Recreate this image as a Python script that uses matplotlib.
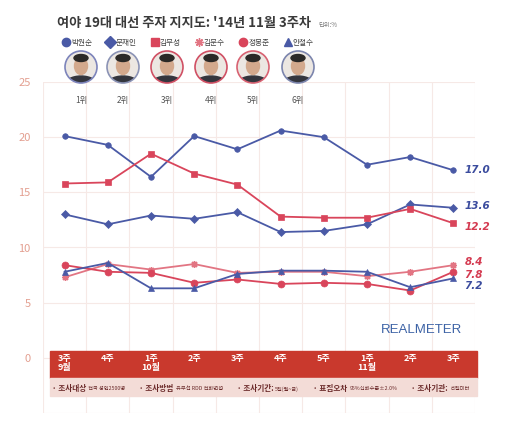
import numpy as np
import matplotlib.pyplot as plt
from matplotlib.patches import Rectangle, Circle, Ellipse
from matplotlib.lines import Line2D

plt.rcParams['font.family'] = ['Noto Sans CJK KR', 'DejaVu Sans']

# 데이터
weeks = ['3주\n9월', '4주', '1주\n10월', '2주', '3주', '4주', '5주', '1주\n11월', '2주', '3주']
names = ['박원순', '문재인', '김무성', '김문수', '정몽준', '안철수']
park = [20.1, 19.3, 16.4, 20.1, 18.9, 20.6, 20.0, 17.5, 18.2, 17.0]
moon = [13.0, 12.1, 12.9, 12.6, 13.2, 11.4, 11.5, 12.1, 13.9, 13.6]
kim_ms = [15.8, 15.9, 18.5, 16.7, 15.7, 12.8, 12.7, 12.7, 13.5, 12.2]
kim_mns = [7.3, 8.5, 8.0, 8.5, 7.7, 7.8, 7.8, 7.4, 7.8, 8.4]
chung = [8.4, 7.8, 7.7, 6.8, 7.1, 6.7, 6.8, 6.7, 6.1, 7.8]
ahn = [7.8, 8.6, 6.3, 6.3, 7.6, 7.9, 7.9, 7.8, 6.4, 7.2]
ranks = ['1위', '2위', '3위', '4위', '5위', '6위']
yticks = [0, 5, 10, 15, 20, 25]

series = [park, moon, kim_ms, kim_mns, chung, ahn]
blue = '#4a5aa6'
red = '#d9455b'
pink = '#e27583'
colors = [blue, blue, red, pink, red, blue]
markers = ['o', 'D', 's', (8, 2, 0), 'o', '^']
msizes = [4, 4, 4.5, 5, 5, 5]
lab_col = ['#3b4c9e', '#3b4c9e', '#d43a50', '#d43a50', '#d43a50', '#3b4c9e']
lab_off = [0, 1, -3, 2.5, -2, -5.5]  # 라벨 세로 위치 보정 (pt)

fig = plt.figure(figsize=(5.2, 4.22), dpi=100)
ax = fig.add_axes([43/520, 9/422, 432/520, 331/422])
x = np.arange(len(weeks))

for s, c, m, ms, lc, off in zip(series, colors, markers, msizes, lab_col, lab_off):
    ax.plot(x, s, color=c, marker=m, markersize=ms, lw=1.3, zorder=3,
            markeredgewidth=1.0 if m == (8, 2, 0) else 0.5)
    ax.annotate(f'{s[-1]:.1f}', (x[-1], s[-1]), xytext=(8, off),
                textcoords='offset points', va='center', ha='left',
                color=lc, fontsize=7.5, fontweight='bold', style='italic',
                family='DejaVu Sans', annotation_clip=False)

ax.set_xlim(-0.5, 9.5)
ax.set_ylim(-5, 25)
ax.set_xticks(np.arange(-0.5, 10, 1))
ax.set_xticklabels([])
ax.set_yticks([-5] + yticks)
ax.set_yticklabels([''] + [str(v) for v in yticks])
ax.tick_params(length=0, pad=9, labelsize=8, labelcolor='#e39f90')
ax.grid(True, color='#f6e9e6', lw=0.8)
ax.set_axisbelow(True)
for sp in ax.spines.values():
    sp.set_visible(False)

# 아래 띠
ax.add_patch(Rectangle((-0.34, -1.8), 9.89, 2.4, color='#c9392d', zorder=4, clip_on=False))
ax.add_patch(Rectangle((-0.34, -3.45), 9.89, 1.65, color='#f3dcd7', zorder=4, clip_on=False))
for i, w in enumerate(weeks):
    ax.text(i, 0.35, w, ha='center', va='top', color='white', fontsize=6.5,
            fontweight='bold', linespacing=1.05, zorder=5)

# 오버레이 (픽셀 좌표)
ov = fig.add_axes([0, 0, 1, 1], zorder=5)
ov.set_xlim(0, 520)
ov.set_ylim(422, 0)
ov.axis('off')

ov.text(57, 23, "여야 19대 대선 주자 지지도: '14년 11월 3주차", fontsize=9.5,
        fontweight='bold', color='#3a3a3a', va='center', ha='left')
ov.text(318, 25, '단위:%', fontsize=4.5, color='#777777', va='center', ha='left')

handles = [Line2D([], [], color=c, marker=m, linestyle='none', markersize=6)
           for c, m in zip(colors, markers)]
ov.legend(handles, names, loc='center left', bbox_to_anchor=(60/520, 1 - 43/422),
          bbox_transform=fig.transFigure, ncol=6, frameon=False, fontsize=5.5,
          handlelength=0.6, handletextpad=0.35, columnspacing=2.1,
          labelcolor='#444444', borderpad=0)

ring = ['#7d84bb', '#8b93b5', '#d05064', '#d05064', '#d86272', '#7c85ad']
px = [81, 123, 167, 211, 253, 298]
for cx, rc, rk in zip(px, ring, ranks):
    c = Circle((cx, 67), 16, facecolor='#ece7e2', edgecolor='none')
    ov.add_patch(c)
    for p in [Ellipse((cx, 86), 34, 20, color='#34363e'),
              Ellipse((cx, 66), 13, 17, color='#d3a98d'),
              Ellipse((cx, 58), 14, 7, color='#2b2927')]:
        ov.add_patch(p)
        p.set_clip_path(c)
    ov.add_patch(Circle((cx, 67), 16, facecolor='none', edgecolor=rc, lw=1.2))
    ov.text(cx, 100, rk, ha='center', va='center', fontsize=6, color='#555555')

ov.text(422, 330, 'REALMETER', ha='center', va='center', fontsize=9.5,
        color='#3d63a6', family=['Liberation Sans', 'DejaVu Sans'])

# 조사 개요
notes = [('· 조사대상', '전국 성인2500명'), ('· 조사방법', '유무선 RDD 전화면접'),
         ('· 조사기간:', '5일(월~금)'), ('· 표집오차', '95%신뢰수준±2.0%'),
         ('· 조사기관:', '리얼미터')]
prev = None
for lab, det in notes:
    if prev is None:
        t = ov.text(52, 389, lab, fontsize=5.5, fontweight='bold', color='#6b2a2a',
                    va='center', ha='left')
    else:
        t = ov.annotate(lab, (1, 0.5), xycoords=prev, xytext=(10, 0),
                        textcoords='offset points', fontsize=5.5, fontweight='bold',
                        color='#6b2a2a', va='center', ha='left')
    prev = ov.annotate(det, (1, 0.5), xycoords=t, xytext=(1.5, 0),
                       textcoords='offset points', fontsize=3.8, color='#6b2a2a',
                       va='center', ha='left')

fig.savefig('out.png', dpi=100)
